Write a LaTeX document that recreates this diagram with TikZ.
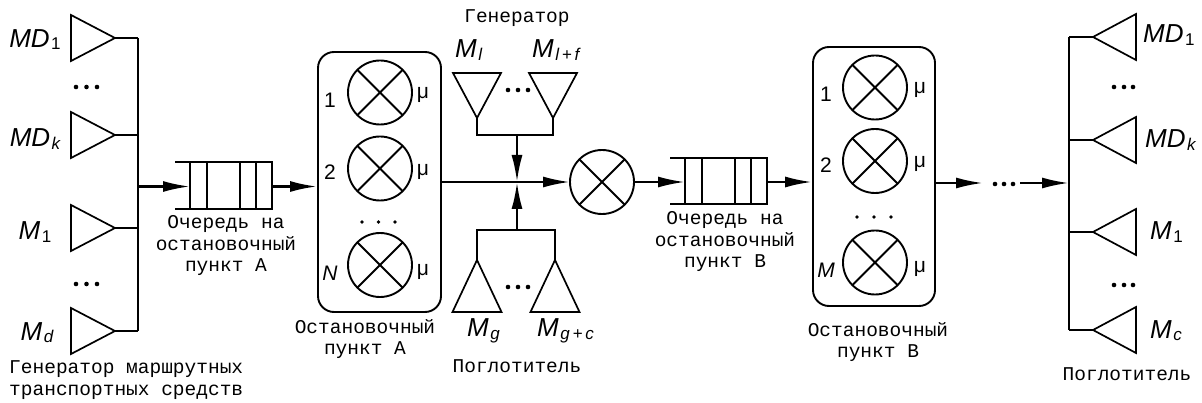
\documentclass[tikz,border=0pt]{standalone}
\usepackage{fontspec}
\setmainfont{Liberation Sans}
\newfontfamily\monofont{Liberation Mono}
\usetikzlibrary{arrows.meta}

% small subscript set slightly below the baseline
\newcommand{\sbs}[1]{\kern1.5pt\raisebox{-2.5pt}{\fontsize{17}{17}\selectfont #1}}

\tikzset{
  conn/.style={line width=2.4pt},
  arr/.style={line width=2.4pt,-{Latex[length=27pt,width=11pt]}},
  tri/.style={line width=1.7pt, line join=miter},
  srv/.style={circle, draw, line width=1.9pt, minimum size=64pt, inner sep=0pt, outer sep=0pt},
  cross/.style={line width=1.9pt},
  stopbox/.style={draw, rounded corners=16pt, line width=1.9pt, inner sep=0pt},
  queue/.style={draw, line width=2.2pt, minimum width=82pt, minimum height=47pt, inner sep=0pt, outer sep=0pt},
  qline/.style={line width=2.2pt},
  mono/.style={font=\monofont\fontsize{19.5}{21.5}\selectfont, inner sep=0pt, align=center},
  lab/.style={font=\fontsize{26}{26}\selectfont\itshape, inner sep=0pt},
  num/.style={font=\fontsize{21}{21}\selectfont, inner sep=0pt},
  % triangles: source pointing right, sink pointing left, generator down, absorber up
  pics/triR/.style={code={\draw[tri] (0,0) -- (-44,-23) -- (-44,23) -- cycle; \coordinate (-apex) at (0,0);}},
  pics/triL/.style={code={\draw[tri] (0,0) -- (43,-23) -- (43,23) -- cycle; \coordinate (-apex) at (0,0);}},
  pics/triD/.style={code={\draw[tri] (0,0) -- (-24,-45) -- (24,-45) -- cycle; \coordinate (-apex) at (0,0);}},
  pics/triU/.style={code={\draw[tri] (0,0) -- (-24.5,52) -- (24.5,52) -- cycle; \coordinate (-apex) at (0,0);}},
}

\begin{document}
\begin{tikzpicture}[x=1pt,y=-1pt]
\useasboundingbox (0,0) rectangle (1202,403);

% ---------- vehicle generator (left) ----------
\pic (s1) at (115,38) {triR};
\pic (s2) at (115,135) {triR};
\pic (s3) at (115,228) {triR};
\pic (s4) at (115,331) {triR};
\coordinate (bl1) at (138,38);
\coordinate (bl2) at (138,331);
\coordinate (blm) at (138,186.5);
\draw[conn] (bl1) -- (bl2);
\foreach \s in {s1,s2,s3,s4} \draw[conn] (\s-apex) -- (\s-apex -| bl1);
\node[lab, anchor=base] (ls1) at (35,47.5) {MD\sbs{\upshape 1}};
\node[lab, anchor=base] (ls2) at (35,147) {MD\sbs{k}};
\node[lab, anchor=base] (ls3) at (35,240) {M\sbs{\upshape 1}};
\node[lab, anchor=base] (ls4) at (37,340) {M\sbs{d}};
\foreach \y in {87,284} \foreach \x in {76,86.5,97} \fill (\x,\y) circle (2.3pt);
\node[mono, align=left, anchor=west] (lgen) at (9,380) {Генератор маршрутных\\транспортных средств};

% ---------- queue A ----------
\node[queue] (qA) at (231,185.5) {};
\node[mono] (lqA) at (226,246) {Очередь на\\остановочный\\пункт А};

% ---------- stop A ----------
\node[stopbox, minimum width=123pt, minimum height=260pt] (bA) at (379.5,182) {};
\node[srv] (a1) at (380,92.5) {};
\node[srv] (a2) at (380,168.5) {};
\node[srv] (a3) at (380,265) {};
\node[num] (na1) at (330,100) {1};
\node[num] (na2) at (330,172) {2};
\node[num, font=\fontsize{21}{21}\selectfont\itshape] (na3) at (330,273) {N};
\node[num] (ma1) at (423,95) {μ};
\node[num] (ma2) at (423,172) {μ};
\node[num] (ma3) at (423,272) {μ};
\foreach \x in {362,378.5,395} \fill (\x,222) circle (1.8pt);
\node[mono] (lbA) at (365,339) {Остановочный\\пункт А};

% ---------- merge with generator / absorber ----------
\coordinate (jn) at (517,182);
\pic (g1) at (477,118) {triD};
\pic (g2) at (553,118) {triD};
\pic (p1) at (477,260) {triU};
\pic (p2) at (555,260) {triU};
\coordinate (gj) at (517,135);
\coordinate (pj) at (517,230);
\draw[conn] (g1-apex) |- (gj) -| (g2-apex);
\draw[conn] (p1-apex) |- (pj) -| (p2-apex);
\draw[arr] (gj) -- (jn);
\draw[arr] (pj) -- (jn);
\node[srv] (mid) at (602,182) {};
\draw[arr] (bA.east) -- (mid.west);
\node[mono] (lgn) at (517,18) {Генератор};
\node[lab, anchor=base west] (lg1) at (455,58) {M\sbs{l}};
\node[lab, anchor=base west] (lg2) at (532,58) {M\sbs{l\,+\,f}};
\node[lab, anchor=base west] (lp1) at (467,337) {M\sbs{g}};
\node[lab, anchor=base west] (lp2) at (537,337) {M\sbs{g\,+\,c}};
\foreach \x in {508,518,528} {\fill (\x,90) circle (2.3pt); \fill (\x,287) circle (2.3pt);}
\node[mono] (lpg) at (517,366) {Поглотитель};

% ---------- queue B ----------
\node[queue, minimum height=46pt] (qB) at (726,181) {};
\node[mono] (lqB) at (725,242) {Очередь на\\остановочный\\пункт B};

% ---------- stop B ----------
\node[stopbox, minimum width=122pt, minimum height=259pt] (bB) at (874,176.5) {};
\node[srv] (b1) at (875,87.5) {};
\node[srv] (b2) at (875,161) {};
\node[srv] (b3) at (875,262.5) {};
\node[num] (nb1) at (826,94) {1};
\node[num] (nb2) at (826,165) {2};
\node[num, font=\fontsize{21}{21}\selectfont\itshape] (nb3) at (826,270) {M};
\node[num] (mb1) at (920,90) {μ};
\node[num] (mb2) at (920,164) {μ};
\node[num] (mb3) at (920,269) {μ};
\foreach \x in {857,874,891} \fill (\x,217) circle (1.8pt);
\node[mono] (lbB) at (878,342) {Остановочный\\пункт B};

% queue bars and open ends
\foreach \q in {qA,qB} {
  \foreach \d in {17,50,66} \draw[qline] ([xshift=\d pt]\q.north west) -- ([xshift=\d pt]\q.south west);
  \draw[qline] (\q.north west) -- ++(-15,0);
  \draw[qline] (\q.south west) -- ++(-15,0);
}

% crosses inside the servers
\foreach \c in {a1,a2,a3,b1,b2,b3,mid} \draw[cross] (\c.45) -- (\c.225) (\c.135) -- (\c.315);

% ---------- flow arrows ----------
\draw[arr] (blm) -- (blm -| qA.west);
\draw[arr] (qA.east |- blm) -- (blm -| bA.west);
\draw[arr] (mid.east) -- (mid.east -| qB.west);
\draw[arr] (qB.east |- mid.east) -- (mid.east -| bB.west);

% ---------- sink (right) ----------
\coordinate (dL) at (983,183);
\coordinate (dR) at (1020,183);
\coordinate (br1) at (1069,37);
\coordinate (br2) at (1069,330);
\coordinate (brm) at (1069,183);
\draw[arr] (bB.east |- dL) -- (dL);
\foreach \x in {995,1004,1013} \fill (\x,184) circle (2.3pt);
\draw[arr] (dR) -- (brm);
\pic (r1) at (1093,37) {triL};
\pic (r2) at (1093,140) {triL};
\pic (r3) at (1093,232) {triL};
\pic (r4) at (1093,330) {triL};
\draw[conn] (br1) -- (br2);
\foreach \r in {r1,r2,r3,r4} \draw[conn] (\r-apex) -- (\r-apex -| br1);
\node[lab, anchor=base west] (lr1) at (1143,43) {MD\sbs{\upshape 1}};
\node[lab, anchor=base west] (lr2) at (1145,148) {MD\sbs{k}};
\node[lab, anchor=base west] (lr3) at (1150,240) {M\sbs{\upshape 1}};
\node[lab, anchor=base west] (lr4) at (1150,338) {M\sbs{c}};
\foreach \y in {87,285} \foreach \x in {1114,1124,1133} \fill (\x,\y) circle (2.3pt);
\node[mono] (lsk) at (1127,374) {Поглотитель};
\end{tikzpicture}
\end{document}
